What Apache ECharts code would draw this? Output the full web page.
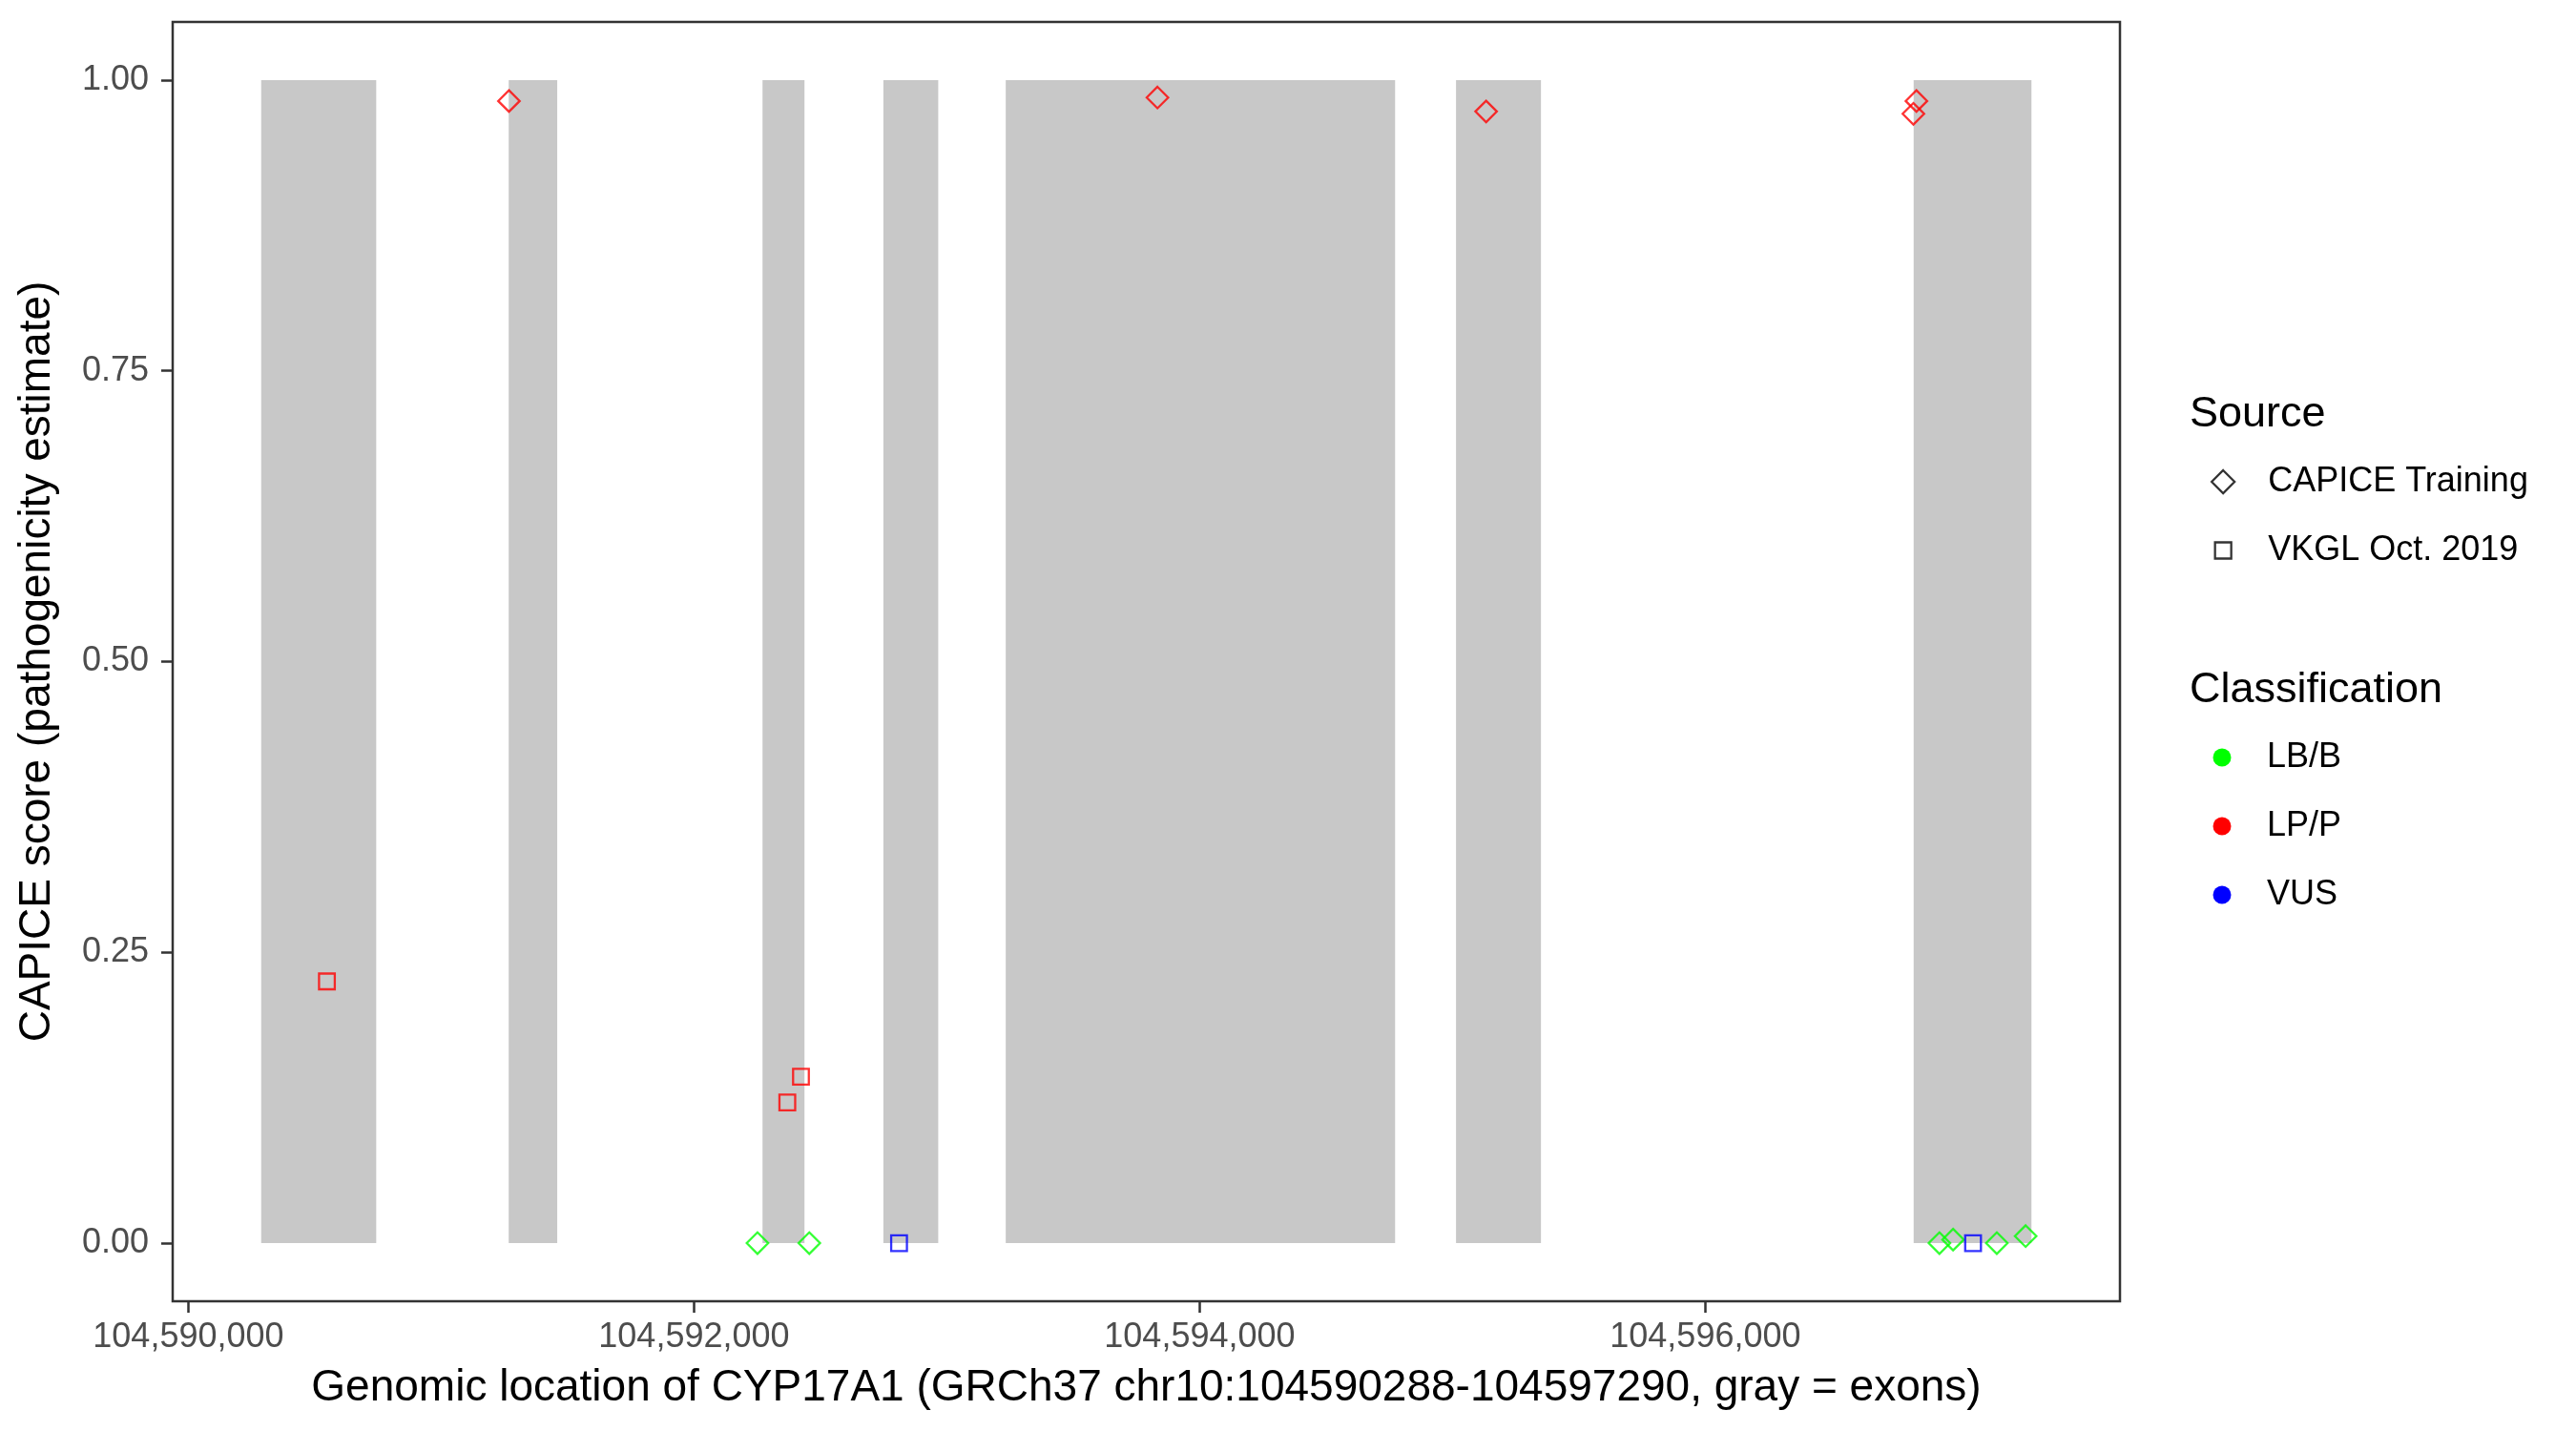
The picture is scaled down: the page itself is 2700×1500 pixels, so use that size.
<!DOCTYPE html>
<html>
<head>
<meta charset="utf-8">
<title>CYP17A1 CAPICE scores</title>
<script src="https://cdn.jsdelivr.net/npm/echarts@6/dist/echarts.min.js"></script>
<style>
  html, body { margin: 0; padding: 0; background: #fff; }
  #chart { width: 2700px; height: 1500px; }
</style>
</head>
<body>
<div id="chart"></div>
<script>
// exons of CYP17A1 (gray bands), genomic positions
const exonStart = [104590288, 104591267, 104592271, 104592749, 104593233, 104595014, 104596824]
const exonEnd = [104590743, 104591459, 104592437, 104592966, 104594773, 104595350, 104597290]
const exonBottom = 0
const exonTop = 1

// CAPICE Training variants
const capiceLpPos = [104591268, 104593833, 104595133, 104596835, 104596823]
const capiceLpScore = [0.982, 0.985, 0.973, 0.982, 0.971]
const capiceLbPos = [104592251, 104592456, 104596926, 104596980, 104597153, 104597267]
const capiceLbScore = [0, 0, 0, 0.003, 0, 0.006]

// VKGL Oct. 2019 variants
const vkglLpPos = [104590548, 104592369, 104592423]
const vkglLpScore = [0.225, 0.121, 0.143]
const vkglVusPos = [104592811, 104597059]
const vkglVusScore = [0, 0]

const xTicks = [104590000, 104592000, 104594000, 104596000]
const yTicks = [0, 0.25, 0.5, 0.75, 1]

const classNames = ['LB/B', 'LP/P', 'VUS']
const classColors = { 'LB/B': '#00ff00', 'LP/P': '#ff0000', 'VUS': '#0000ff' }

const FONT = '"Liberation Sans", Arial, Helvetica, sans-serif'

const zip = (xs, ys) => xs.map((x, i) => [x, ys[i]])
const fmtComma = v => String(Math.round(v)).replace(/\B(?=(\d{3})+(?!\d))/g, ',')

const chart = echarts.init(document.getElementById('chart'))

const pointSeries = (name, symbol, size, color, data) => ({
  name,
  type: 'scatter',
  symbol,
  symbolSize: size,
  z: 3,
  itemStyle: { color: 'rgba(0,0,0,0)', borderColor: color, borderWidth: 2.3 },
  emphasis: { disabled: true },
  data
})

// empty series that only feed the legends
const legendSeries = [
  { name: 'CAPICE Training', type: 'scatter', symbol: 'diamond', data: [],
    itemStyle: { color: 'rgba(0,0,0,0)', borderColor: '#000', borderWidth: 2.3 } },
  { name: 'VKGL Oct. 2019', type: 'scatter', symbol: 'rect', data: [],
    itemStyle: { color: 'rgba(0,0,0,0)', borderColor: '#000', borderWidth: 2.3 } },
  ...classNames.map(c => ({ name: c, type: 'scatter', symbol: 'circle', data: [],
    itemStyle: { color: classColors[c], opacity: 1 } }))
]

const legendText = pad => ({ fontSize: 36, color: '#000', fontFamily: FONT, padding: [0, 0, 0, pad] })

const option = {
  backgroundColor: '#fff',
  animation: false,
  grid: {
    left: 181, top: 23, width: 2041, height: 1341,
    show: true, borderColor: '#333333', borderWidth: 2.5, backgroundColor: '#fff'
  },
  xAxis: {
    type: 'value',
    min: 104589938,
    max: 104597640,
    name: 'Genomic location of CYP17A1 (GRCh37 chr10:104590288-104597290, gray = exons)',
    nameLocation: 'middle',
    nameGap: 68,
    nameTextStyle: { fontSize: 46, color: '#000', fontFamily: FONT },
    splitLine: { show: false },
    axisLine: { show: false, onZero: false },
    axisTick: { show: true, length: 12, customValues: xTicks, lineStyle: { color: '#333333', width: 2.5 } },
    axisLabel: { customValues: xTicks, formatter: fmtComma, margin: 20, fontSize: 36, color: '#4d4d4d', fontFamily: FONT }
  },
  yAxis: {
    type: 'value',
    min: -0.05,
    max: 1.05,
    name: 'CAPICE score (pathogenicity estimate)',
    nameLocation: 'middle',
    nameGap: 119,
    nameTextStyle: { fontSize: 46, color: '#000', fontFamily: FONT },
    splitLine: { show: false },
    axisLine: { show: false, onZero: false },
    axisTick: { show: true, length: 12, customValues: yTicks, lineStyle: { color: '#333333', width: 2.5 } },
    axisLabel: { customValues: yTicks, formatter: v => v.toFixed(2), margin: 25, fontSize: 36, color: '#4d4d4d', fontFamily: FONT }
  },
  legend: [
    { data: ['CAPICE Training'], orient: 'vertical', left: 2329 - 12, top: 487, padding: 0,
      itemWidth: 24, itemHeight: 24, selectedMode: false, textStyle: legendText(30),
      itemStyle: { borderWidth: 2.3 } },
    { data: ['VKGL Oct. 2019'], orient: 'vertical', left: 2329 - 8.5, top: 559, padding: 0,
      itemWidth: 17, itemHeight: 17, selectedMode: false, textStyle: legendText(33.5),
      itemStyle: { borderWidth: 2.3 } },
    { data: classNames, orient: 'vertical', left: 2329 - 9.5, top: 776, padding: 0,
      itemWidth: 19, itemHeight: 19, itemGap: 36, selectedMode: false, textStyle: legendText(32.5),
      itemStyle: { opacity: 1 } }
  ],
  graphic: [
    { type: 'text', left: 2295, top: 434 - 22, style: { text: 'Source', fontSize: 45, fill: '#000', fontFamily: FONT } },
    { type: 'text', left: 2295, top: 723 - 22, style: { text: 'Classification', fontSize: 45, fill: '#000', fontFamily: FONT } }
  ],
  series: [
    {
      name: 'Exons',
      type: 'custom',
      z: 1,
      silent: true,
      encode: { x: [0, 1], y: [2, 3] },
      data: exonStart.map((s, i) => [s, exonEnd[i], exonBottom, exonTop]),
      renderItem: (params, api) => {
        const p0 = api.coord([api.value(0), api.value(2)])
        const p1 = api.coord([api.value(1), api.value(3)])
        return {
          type: 'rect',
          shape: { x: p0[0], y: p1[1], width: p1[0] - p0[0], height: p0[1] - p1[1] },
          style: { fill: '#c8c8c8' }
        }
      }
    },
    pointSeries('CAPICE Training LP/P', 'diamond', 22.5, classColors['LP/P'], zip(capiceLpPos, capiceLpScore)),
    pointSeries('CAPICE Training LB/B', 'diamond', 22.5, classColors['LB/B'], zip(capiceLbPos, capiceLbScore)),
    pointSeries('VKGL Oct. 2019 LP/P', 'rect', 16.5, classColors['LP/P'], zip(vkglLpPos, vkglLpScore)),
    pointSeries('VKGL Oct. 2019 VUS', 'rect', 16.5, classColors['VUS'], zip(vkglVusPos, vkglVusScore)),
    ...legendSeries
  ]
}

chart.setOption(option)
window.addEventListener('resize', chart.resize)
</script>
</body>
</html>
